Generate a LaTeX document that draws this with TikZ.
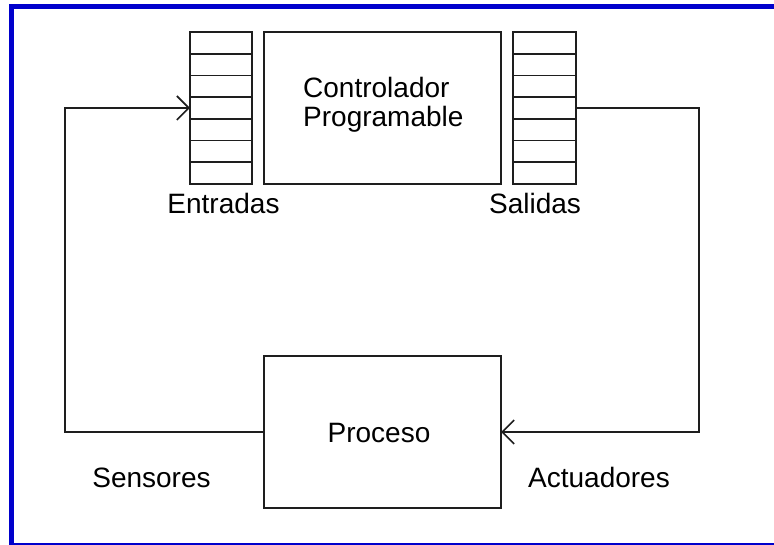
\documentclass[tikz,border=0pt]{standalone}
\usepackage{fontspec}
\setmainfont{Liberation Sans}
\usetikzlibrary{arrows.meta}
\definecolor{framecol}{RGB}{0,0,204}
\definecolor{ink}{RGB}{30,30,30}
\tikzset{
  box/.style={draw=ink, line width=1.8pt, inner sep=0pt, outer sep=0pt},
  cell/.style={box, minimum height=21.714pt},
  wire/.style={draw=ink, line width=1.6pt},
  tip/.style={-{Straight Barb[length=12pt,width=24pt,line width=1.6pt]}},
  lbl/.style={inner sep=0pt, text=black, font=\fontsize{28}{29.5}\selectfont},
}
\begin{document}
\begin{tikzpicture}[x=1pt,y=-1pt]
  \useasboundingbox (0,0) rectangle (774,545);
  % outer frame, open to the right
  \draw[framecol, line width=5.5pt] (11.5,6.5) rectangle (790,545.5);

  % controller
  \node[box, minimum width=237pt, minimum height=152pt] (ctrl) at (382.5,108) {};
  \node[lbl, align=left, anchor=west] (ctrltxt) at (303,105) {Controlador\\Programable};

  % input and output registers
  \foreach \i in {1,...,7} {
    \node[cell, minimum width=62pt] (in\i) at (221,{32+(\i-0.5)*21.714}) {};
    \node[cell, minimum width=63pt] (out\i) at (544.5,{32+(\i-0.5)*21.714}) {};
  }
  \node[lbl, anchor=base] (entradas) at (223.5,214) {Entradas};
  \node[lbl, anchor=base] (salidas) at (535,214) {Salidas};

  % process
  \node[box, minimum width=237pt, minimum height=152pt] (proc) at (382.5,432) {};
  \node[lbl, anchor=base] (proctxt) at (379,442) {Proceso};

  % feedback loop
  \coordinate (lb) at (65,432);
  \coordinate (rb) at (699,108);
  \draw[wire, tip] (proc.west) -- (lb) |- (in4.west);
  \draw[wire, tip] (out4.east) -- (rb) |- (proc.east);

  \node[lbl, anchor=base] (sens) at (151.5,487) {Sensores};
  \node[lbl, anchor=base] (act) at (599,487) {Actuadores};
\end{tikzpicture}
\end{document}
